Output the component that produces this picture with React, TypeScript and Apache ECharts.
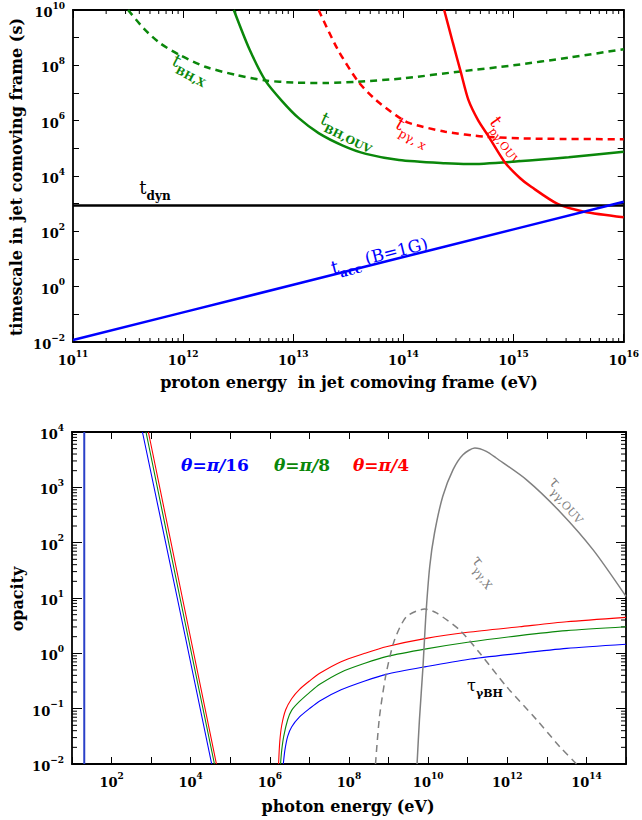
import React, { useEffect, useRef } from "react";
import * as echarts from "echarts";

const FONT = '"DejaVu Serif", "Liberation Serif", serif';

// ---------- top panel: log10 proton energy (eV) vs log10 timescale (s) ----------
const accLogE = [11, 12, 13, 14, 15, 16];
const accLogT = [-1.93, -0.93, 0.07, 1.07, 2.07, 3.07];
const dynLogE = [11, 16];
const dynLogT = [2.93, 2.93];
const bhxLogE = [11.5, 11.65, 11.79, 11.97, 12.2, 12.48, 12.75, 13.0, 13.3, 13.59, 14.0, 14.5, 15.0, 15.5, 16.0];
const bhxLogT = [10.0, 9.3, 8.8, 8.37, 7.95, 7.65, 7.45, 7.38, 7.36, 7.41, 7.53, 7.77, 8.0, 8.28, 8.58];
const bhoLogE = [12.46, 12.6, 12.75, 12.9, 13.05, 13.23, 13.45, 13.66, 13.96, 14.38, 14.59, 15.04, 15.5, 16.0];
const bhoLogT = [10.0, 8.6, 7.43, 6.7, 6.09, 5.55, 5.1, 4.8, 4.58, 4.46, 4.43, 4.53, 4.68, 4.88];
const pgxLogE = [13.23, 13.4, 13.59, 13.75, 13.93, 14.05, 14.38, 14.74, 15.2, 16.0];
const pgxLogT = [10.0, 8.6, 7.41, 6.75, 6.2, 5.92, 5.6, 5.42, 5.35, 5.33];
const pgoLogE = [14.37, 14.45, 14.52, 14.59, 14.68, 14.77, 14.92, 15.06, 15.16, 15.4, 15.64, 16.0];
const pgoLogT = [10.0, 8.8, 7.77, 6.75, 6.0, 5.45, 4.5, 3.92, 3.61, 2.99, 2.71, 2.51];

// ---------- bottom panel: log10 photon energy (eV) vs log10 opacity ----------
const lineLowE = [20.4, 20.4];
const lineLowTau = [1e-2, 1e4];
const steepBlueLogE = [2.78, 3.66, 4.53];
const steepBlueLogTau = [4, 1, -2];
const steepGreenLogE = [2.87, 3.73, 4.6];
const steepGreenLogTau = [4, 1, -2];
const steepRedLogE = [2.93, 3.79, 4.65];
const steepRedLogTau = [4, 1, -2];
const bhRedLogE = [6.22, 6.25, 6.3, 6.4, 6.55, 6.75, 7.0, 7.26, 7.8, 8.4, 8.94, 9.95, 11, 12.31, 13.5, 15];
const bhRedLogTau = [-2, -1.6, -1.3, -1.02, -0.82, -0.65, -0.5, -0.36, -0.15, 0.0, 0.12, 0.27, 0.38, 0.48, 0.57, 0.65];
const bhGreenLogE = [6.27, 6.3, 6.35, 6.45, 6.55, 6.75, 7.0, 7.26, 7.8, 8.4, 8.94, 9.95, 11, 12.31, 13.5, 15];
const bhGreenLogTau = [-2, -1.75, -1.5, -1.2, -1.03, -0.87, -0.71, -0.56, -0.34, -0.18, -0.06, 0.08, 0.2, 0.32, 0.41, 0.48];
const bhBlueLogE = [6.34, 6.38, 6.45, 6.55, 6.75, 7.0, 7.26, 7.8, 8.4, 8.94, 9.95, 11, 12.31, 13.5, 15];
const bhBlueLogTau = [-2, -1.75, -1.5, -1.33, -1.15, -1.0, -0.86, -0.66, -0.5, -0.38, -0.24, -0.11, 0.0, 0.09, 0.165];
const ouvLogE = [9.72, 9.78, 9.87, 9.94, 10.04, 10.16, 10.37, 10.63, 10.88, 11.18, 11.47, 11.72, 12.48, 13.33, 14.17, 15];
const ouvLogTau = [-2, -1.2, -0.24, 0.66, 1.57, 2.17, 2.84, 3.32, 3.59, 3.71, 3.65, 3.53, 3.14, 2.56, 1.87, 1.03];
const xrLogE = [8.67, 8.77, 8.94, 9.15, 9.45, 9.91, 10.21, 10.8, 11.31, 11.98, 12.74, 13.33, 13.75];
const xrLogTau = [-2, -1.15, -0.36, 0.24, 0.66, 0.8, 0.73, 0.42, 0.0, -0.6, -1.2, -1.69, -2];

const topXMinorDecades = [11, 12, 13, 14, 15];
const botYMinorDecades = [-2, -1, 0, 1, 2, 3];
const minorMult = [2, 3, 4, 5, 6, 7, 8, 9];

const BLUE = "#0000ff";
const GREEN = "#0a870a";
const RED = "#ff0000";
const GRAY = "#808080";

const pts = (le: number[], lt: number[]) => le.map((e, i) => [Math.pow(10, e), Math.pow(10, lt[i])]);
const raw = (xs: number[], ys: number[]) => xs.map((x, i) => [x, ys[i]]);

const supText = (e: number) => (e < 0 ? "\u2212" + -e : String(e));
const expLabel = (show: (e: number) => boolean) => (v: number) => {
  const e = Math.round(Math.log10(v));
  if (!show(e)) return "";
  return `{b|10}{s|${supText(e)}}`;
};
const labelRich = {
  b: { fontFamily: FONT, fontWeight: "bold", fontSize: 13, lineHeight: 18, color: "#000", verticalAlign: "bottom" },
  s: { fontFamily: FONT, fontWeight: "bold", fontSize: 9, lineHeight: 10, color: "#000", verticalAlign: "top" },
};

const logAxis = (extra: any, tickLen: number) => ({
  type: "log",
  logBase: 10,
  interval: 1,
  axisLine: { show: true, onZero: false, lineStyle: { color: "#000", width: 1.8 } },
  axisTick: { show: true, inside: true, length: tickLen, lineStyle: { color: "#000", width: 1 } },
  splitLine: { show: false },
  minorTick: { show: false },
  ...extra,
});

const lineSeries = (
  data: number[][], color: string, width: number, xi: number, yi: number,
  dashed = false, smooth: number | boolean = 0.25
) => ({
  type: "line",
  xAxisIndex: xi,
  yAxisIndex: yi,
  data,
  showSymbol: false,
  symbol: "none",
  smooth,
  clip: true,
  silent: true,
  lineStyle: { color, width, type: dashed ? [7, 5] : "solid" },
});

const minorX = (vals: number[], yv: number, xi: number, yi: number, len: number) => ({
  type: "custom",
  xAxisIndex: xi,
  yAxisIndex: yi,
  silent: true,
  clip: false,
  data: vals.map((v) => [v, yv]),
  renderItem: (params: any, api: any) => {
    const cs = params.coordSys;
    const p = api.coord([api.value(0), api.value(1)]);
    const st = { stroke: "#000", lineWidth: 1 };
    return {
      type: "group",
      children: [
        { type: "line", shape: { x1: p[0], y1: cs.y + cs.height, x2: p[0], y2: cs.y + cs.height - len }, style: st },
        { type: "line", shape: { x1: p[0], y1: cs.y, x2: p[0], y2: cs.y + len }, style: st },
      ],
    };
  },
});

const minorY = (vals: number[], xv: number, xi: number, yi: number, len: number) => ({
  type: "custom",
  xAxisIndex: xi,
  yAxisIndex: yi,
  silent: true,
  clip: false,
  data: vals.map((v) => [xv, v]),
  renderItem: (params: any, api: any) => {
    const cs = params.coordSys;
    const p = api.coord([api.value(0), api.value(1)]);
    const st = { stroke: "#000", lineWidth: 1 };
    return {
      type: "group",
      children: [
        { type: "line", shape: { x1: cs.x, y1: p[1], x2: cs.x + len, y2: p[1] }, style: st },
        { type: "line", shape: { x1: cs.x + cs.width, y1: p[1], x2: cs.x + cs.width - len, y2: p[1] }, style: st },
      ],
    };
  },
});

const subLabel = (
  x: number, y: number, rot: number, main: string, sub: string, color: string,
  mainSize: number, subSize: number, subBold: boolean, tail = ""
) => ({
  type: "text",
  x,
  y,
  rotation: rot,
  silent: true,
  style: {
    text: `{m|${main}}{s|${sub}}` + (tail ? `{r|${tail}}` : ""),
    align: "center",
    verticalAlign: "middle",
    rich: {
      m: { fontFamily: FONT, fontSize: mainSize, lineHeight: mainSize, fill: color, verticalAlign: "top" },
      s: { fontFamily: FONT, fontSize: subSize, fontWeight: subBold ? "bold" : "normal", lineHeight: mainSize + 5, fill: color, verticalAlign: "bottom" },
      r: { fontFamily: FONT, fontSize: mainSize - 1, lineHeight: mainSize, fill: color, verticalAlign: "top" },
    },
  },
});

const plainText = (x: number, y: number, rot: number, text: string, color: string, size: number, weight = "bold") => ({
  type: "text",
  x,
  y,
  rotation: rot,
  silent: true,
  style: { text, fill: color, font: `${weight} ${size}px ${FONT}`, align: "center", verticalAlign: "middle" },
});

const thetaText = (x: number, y: number, denom: string, color: string) => ({
  type: "text",
  x,
  y,
  silent: true,
  style: {
    text: `{i|\u03b8}{n|=}{i|\u03c0/}{n|${denom}}`,
    align: "center",
    verticalAlign: "middle",
    rich: {
      i: { fontFamily: FONT, fontSize: 17, fontStyle: "italic", fontWeight: "bold", fill: color },
      n: { fontFamily: FONT, fontSize: 17, fontWeight: "bold", fill: color },
    },
  },
});

const deg = (d: number) => (d * Math.PI) / 180;

export default function App() {
  const ref = useRef<HTMLDivElement>(null);
  useEffect(() => {
    if (!ref.current) return;
    const chart = echarts.init(ref.current, null, { renderer: "svg" });

    const topXMinor: number[] = [];
    topXMinorDecades.forEach((d) => minorMult.forEach((m) => topXMinor.push(m * Math.pow(10, d))));
    const botYMinor: number[] = [];
    botYMinorDecades.forEach((d) => minorMult.forEach((m) => botYMinor.push(m * Math.pow(10, d))));

    const option: any = {
      animation: false,
      backgroundColor: "#fff",
      grid: [
        { left: 73, top: 10, width: 553, height: 332 },
        { left: 72, top: 432, width: 554, height: 332 },
      ],
      xAxis: [
        logAxis({ gridIndex: 0, position: "bottom", min: 1e11, max: 1e16,
          axisLabel: { show: true, interval: 0, margin: 7, formatter: expLabel(() => true), rich: labelRich } }, 8),
        logAxis({ gridIndex: 0, position: "top", min: 1e11, max: 1e16, axisLabel: { show: false } }, 8),
        logAxis({ gridIndex: 1, position: "bottom", min: 1e1, max: 1e15,
          axisLabel: { show: true, interval: 0, margin: 7, formatter: expLabel((e) => e % 2 === 0), rich: labelRich } }, 7),
        logAxis({ gridIndex: 1, position: "top", min: 1e1, max: 1e15, axisLabel: { show: false } }, 7),
      ],
      yAxis: [
        logAxis({ gridIndex: 0, position: "left", min: 1e-2, max: 1e10,
          axisLabel: { show: true, interval: 0, margin: 8, formatter: expLabel((e) => e % 2 === 0), rich: labelRich } }, 6),
        logAxis({ gridIndex: 0, position: "right", min: 1e-2, max: 1e10, axisLabel: { show: false } }, 6),
        logAxis({ gridIndex: 1, position: "left", min: 1e-2, max: 1e4,
          axisLabel: { show: true, interval: 0, margin: 8, formatter: expLabel(() => true), rich: labelRich } }, 10),
        logAxis({ gridIndex: 1, position: "right", min: 1e-2, max: 1e4, axisLabel: { show: false } }, 10),
      ],
      series: [
        minorX(topXMinor, 1, 0, 0, 4),
        minorY(botYMinor, 100, 2, 2, 5),
        // top panel
        lineSeries(pts(bhxLogE, bhxLogT), GREEN, 2.5, 0, 0, true),
        lineSeries(pts(bhoLogE, bhoLogT), GREEN, 2.5, 0, 0),
        lineSeries(pts(pgxLogE, pgxLogT), RED, 2.5, 0, 0, true),
        lineSeries(pts(pgoLogE, pgoLogT), RED, 2.5, 0, 0),
        lineSeries(pts(dynLogE, dynLogT), "#000", 2.5, 0, 0, false, false),
        lineSeries(pts(accLogE, accLogT), BLUE, 2.5, 0, 0, false, false),
        // bottom panel
        lineSeries(raw(lineLowE, lineLowTau), "#2a40c8", 2, 2, 2, false, false),
        lineSeries(pts(steepBlueLogE, steepBlueLogTau), BLUE, 1.1, 2, 2, false, false),
        lineSeries(pts(steepGreenLogE, steepGreenLogTau), GREEN, 1.1, 2, 2, false, false),
        lineSeries(pts(steepRedLogE, steepRedLogTau), RED, 1.1, 2, 2, false, false),
        lineSeries(pts(bhRedLogE, bhRedLogTau), RED, 1.1, 2, 2),
        lineSeries(pts(bhGreenLogE, bhGreenLogTau), GREEN, 1.1, 2, 2),
        lineSeries(pts(bhBlueLogE, bhBlueLogTau), BLUE, 1.1, 2, 2),
        lineSeries(pts(ouvLogE, ouvLogTau), GRAY, 1.5, 2, 2),
        lineSeries(pts(xrLogE, xrLogTau), GRAY, 1.5, 2, 2, true),
      ],
      graphic: [
        // axis titles
        plainText(349, 382, 0, "proton energy  in jet comoving frame (eV)", "#000", 16),
        plainText(16, 177, deg(90), "timescale in jet comoving frame (s)", "#000", 16),
        plainText(348, 806, 0, "photon energy (eV)", "#000", 16),
        plainText(17, 599, deg(90), "opacity", "#000", 16),
        // top annotations
        subLabel(155, 190, 0, "t", "dyn", "#000", 18, 12, true),
        subLabel(380, 258, deg(14), "t", "acc", BLUE, 18, 12, true, " (B=1G)"),
        subLabel(190, 70, deg(-28), "t", "BH,X", GREEN, 18, 11, true),
        subLabel(347, 132, deg(-26), "t", "BH,OUV", GREEN, 18, 11, true),
        subLabel(412, 133, deg(-30), "t", "p\u03b3, x", RED, 18, 12, false),
        subLabel(507, 140, deg(-54), "t", "p\u03b3,OUV", RED, 18, 11, false),
        // bottom annotations
        thetaText(215, 465, "16", BLUE),
        thetaText(302, 465, "8", GREEN),
        thetaText(381, 465, "4", RED),
        subLabel(567, 500, deg(-49), "\u03c4", "\u03b3\u03b3,OUV", GRAY, 15, 11, false),
        subLabel(483, 572, deg(-53), "\u03c4", "\u03b3\u03b3,X", GRAY, 15, 11, false),
        subLabel(485, 688, 0, "\u03c4", "\u03b3BH", "#000", 16, 11, true),
      ],
    };
    chart.setOption(option);
    return () => chart.dispose();
  }, []);
  return (
    <div
      ref={ref}
      style={{ position: "fixed", left: 0, top: 0, width: 642, height: 820, background: "#fff" }}
    />
  );
}
